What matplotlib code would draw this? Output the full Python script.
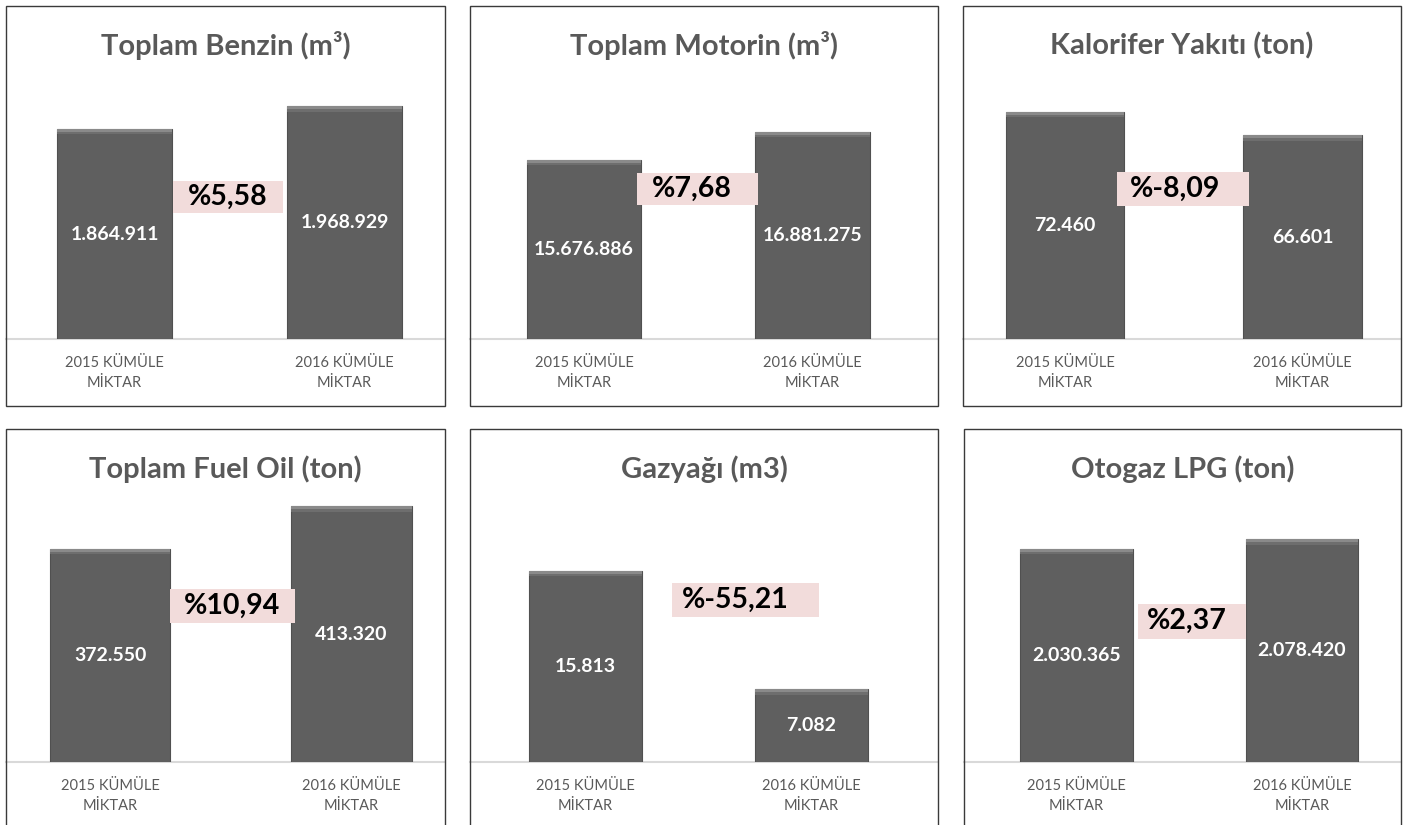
import matplotlib
matplotlib.use("Agg")
from matplotlib import pyplot as plt
from matplotlib.patches import Rectangle

plt.rcParams['font.family'] = ['Lato', 'DejaVu Sans']

# data
titles = ["Toplam Benzin (m³)", "Toplam Motorin (m³)", "Kalorifer Yakıtı (ton)",
          "Toplam Fuel Oil (ton)", "Gazyağı (m3)", "Otogaz LPG (ton)"]
categories = ["2015 KÜMÜLE\nMİKTAR", "2016 KÜMÜLE\nMİKTAR"]
benzin = [1864911, 1968929]
motorin = [15676886, 16881275]
kalorifer = [72460, 66601]
fuel_oil = [372550, 413320]
gazyagi = [15813, 7082]
lpg = [2030365, 2078420]
series = [benzin, motorin, kalorifer, fuel_oil, gazyagi, lpg]

# value axis limits per panel (axis min is not zero)
ylims = [(900000, 2154500), (8000000, 19708000), (15000, 84100),
         (170000, 429600), (1700, 21870), (1000000, 2320600)]

W, H = 1409, 825
fig = plt.figure(figsize=(W / 100, H / 100), dpi=100)

# layout in pixels: box left/right/top, xlim, pct box (cx, cy, w, h, text dx)
boxes = [(6, 445, 6), (470, 938, 6), (963, 1401, 6),
         (6, 445, 429), (470, 938, 429), (964, 1401, 429)]
xlims = [(-0.472, 1.437), (-0.499, 1.549), (-0.430, 1.415),
         (-0.431, 1.387), (-0.511, 1.560), (-0.499, 1.439)]
pct_boxes = [(228, 197, 110, 32, 0), (697, 189, 121, 32, -5), (1183, 189, 132, 33, -8),
             (232, 606, 125, 34, 0), (745, 600, 147, 34, -10), (1192, 621, 108, 35, -5)]

bar_color = '#5f5f5f'
text_gray = '#595959'

def fx(x):
    return x / W

def fy(y):
    return 1 - y / H

for i in range(6):
    L, R, T = boxes[i]
    base = T + 333
    top = T + 60
    vals = series[i]
    ymin, ymax = ylims[i]

    # panel border
    fig.add_artist(Rectangle((fx(L), fy(T + 400)), fx(R - L), 400 / H,
                             fill=False, edgecolor='#3a3a3a', lw=1.0,
                             transform=fig.transFigure))

    ax = fig.add_axes([fx(L), fy(base), fx(R - L), (base - top) / H])
    ax.set_xlim(*xlims[i])
    ax.set_ylim(ymin, ymax)
    ax.patch.set_alpha(0)
    for s in ['top', 'right', 'left']:
        ax.spines[s].set_visible(False)
    ax.spines['bottom'].set_color('#d9d9d9')
    ax.spines['bottom'].set_linewidth(1.5)
    ax.set_yticks([])
    ax.set_xticks([0, 1])
    ax.set_xticklabels(categories, fontsize=10.5, color=text_gray, linespacing=1.6)
    ax.tick_params(axis='x', length=0, pad=12)

    x = [0, 1]
    heights = [v - ymin for v in vals]
    ax.bar(x, heights, bottom=ymin, width=0.5, color=bar_color,
           edgecolor='#505050', linewidth=0.8, zorder=3)
    # soft bevel at the top of each bar
    band = (ymax - ymin) * 0.02
    ax.bar(x, [band, band], bottom=[v - band for v in vals], width=0.5,
           color='#6e6e6e', linewidth=0, zorder=4)
    ax.bar(x, [band * 0.5, band * 0.5], bottom=[v - band * 0.5 for v in vals], width=0.5,
           color='#8a8a8a', linewidth=0, zorder=5)

    for xi, v in zip(x, vals):
        ax.text(xi, (ymin + v) / 2, f"{v:,}".replace(",", "."), ha='center', va='center',
                color='white', fontsize=14, fontweight='bold', zorder=6)

    # title
    fig.text(fx((L + R) / 2), fy(T + 40), titles[i], ha='center', va='center',
             fontsize=21, fontweight='bold', color=text_gray)

    # change percentage
    pct = (vals[1] / vals[0] - 1) * 100
    cx, cy, bw, bh, dx = pct_boxes[i]
    fig.add_artist(Rectangle((fx(cx - bw / 2), fy(cy + bh / 2)), fx(bw), bh / H,
                             facecolor='#f2dcdb', edgecolor='none',
                             transform=fig.transFigure, zorder=7))
    fig.text(fx(cx + dx), fy(cy), "%" + f"{pct:.2f}".replace(".", ","), ha='center',
             va='center', fontsize=20.5, fontweight='bold', color='black', zorder=8)

fig.savefig("out.png", dpi=100)
